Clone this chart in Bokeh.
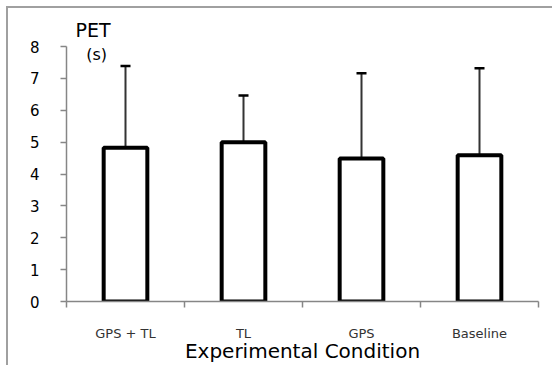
from bokeh.plotting import figure
from bokeh.models import (ColumnDataSource, Range1d, FixedTicker, Whisker, TeeHead, Label, LinearAxis)
from bokeh.embed import file_html
from bokeh.resources import INLINE

categories = ["GPS + TL", "TL", "GPS", "Baseline"]
means = [4.82, 5.0, 4.49, 4.59]
errors = [2.57, 1.46, 2.67, 2.73]
y_ticks = [0, 1, 2, 3, 4, 5, 6, 7, 8]

xpos = [i + 0.5 for i in range(len(categories))]
src = ColumnDataSource(dict(
    x=xpos, top=means,
    lower=[m - e for m, e in zip(means, errors)],
    upper=[m + e for m, e in zip(means, errors)],
))

p = figure(frame_width=472, frame_height=255, output_backend="svg", toolbar_location=None,
           x_range=Range1d(0, len(categories)), y_range=Range1d(0, 8),
           min_border_left=58, min_border_top=38, min_border_right=14, min_border_bottom=50,
           x_axis_type=None, y_axis_type=None,
           title="PET")
p.outline_line_color = None
p.xgrid.visible = False
p.ygrid.visible = False
p.styles = {"border-top": "2px solid #a0a0a0", "border-left": "2px solid #a0a0a0",
            "margin-top": "6px", "margin-left": "6px"}

p.title.text_font = "DejaVu Sans"
p.title.text_font_size = "19px"
p.title.text_font_style = "normal"
p.title.text_color = "black"
p.title.align = "left"
p.title.offset = 9
p.title.standoff = 12

yax = LinearAxis(ticker=FixedTicker(ticks=y_ticks))
yax.axis_line_color = "#868686"
yax.axis_line_width = 1.5
yax.major_tick_line_color = "#868686"
yax.major_tick_line_width = 1.5
yax.major_tick_out = 6
yax.major_tick_in = 0
yax.minor_tick_out = 0
yax.major_label_text_font = "DejaVu Sans"
yax.major_label_text_font_size = "15px"
yax.major_label_text_color = "#000000"
yax.major_label_standoff = 21
p.add_layout(yax, "left")

xax = LinearAxis(ticker=FixedTicker(ticks=xpos, minor_ticks=list(range(len(categories) + 1))))
xax.major_label_overrides = {x: c for x, c in zip(xpos, categories)}
xax.axis_line_color = "#868686"
xax.axis_line_width = 1.5
xax.major_tick_out = 0
xax.major_tick_in = 0
xax.minor_tick_out = 6
xax.minor_tick_in = 0
xax.minor_tick_line_color = "#868686"
xax.minor_tick_line_width = 1.5
xax.major_label_text_font = "DejaVu Sans"
xax.major_label_text_font_size = "13px"
xax.major_label_text_color = "#333333"
xax.major_label_standoff = 18
xax.axis_label = "Experimental Condition"
xax.axis_label_text_font = "DejaVu Sans"
xax.axis_label_text_font_size = "20px"
xax.axis_label_text_font_style = "normal"
xax.axis_label_text_color = "#000000"
xax.axis_label_standoff = -5
p.add_layout(xax, "below")

p.vbar(x="x", top="top", bottom=0, width=0.37, source=src,
       fill_color="white", line_color="black", line_width=4)

w = Whisker(base="x", lower="lower", upper="upper", source=src,
            line_color="#333333", line_width=2,
            upper_head=TeeHead(size=10, line_color="black", line_width=2.5),
            lower_head=TeeHead(size=10, line_color="black", line_width=2.5))
p.add_layout(w)

p.add_layout(Label(x=0.255, y=7.75, text="(s)", text_align="center", text_baseline="middle",
                   text_font="DejaVu Sans", text_font_size="16px", text_color="black"))

open("out.html", "w").write(file_html(p, INLINE))
